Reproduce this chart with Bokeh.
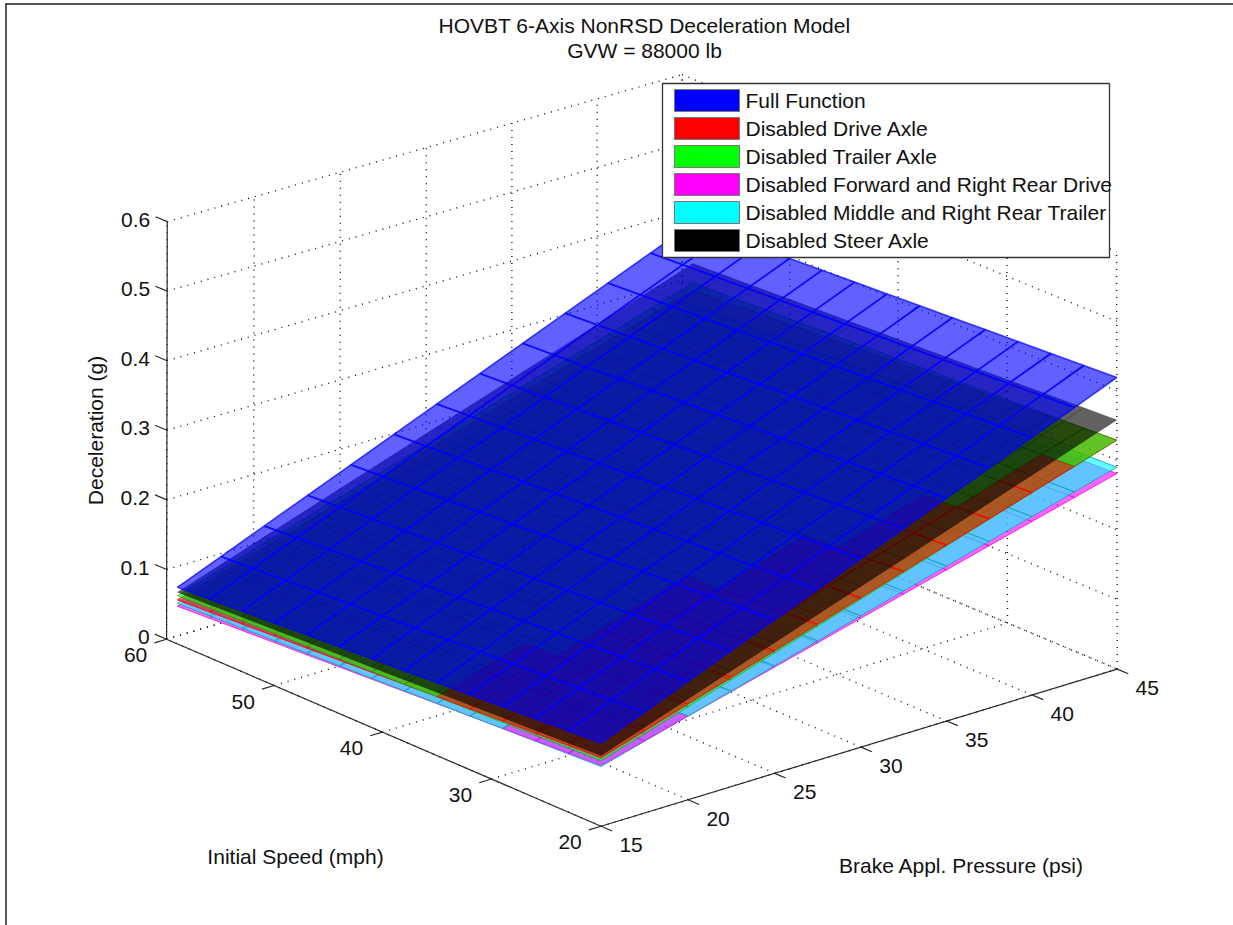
import numpy as np
from bokeh.plotting import figure, ColumnDataSource
from bokeh.models import Range1d
from bokeh.core.properties import value
from bokeh.embed import file_html
from bokeh.resources import INLINE

title_lines = ["HOVBT 6-Axis NonRSD Deceleration Model", "GVW = 88000 lb"]
x_label = "Brake Appl. Pressure (psi)"
y_label = "Initial Speed (mph)"
z_label = "Deceleration (g)"

pressure_ticks = [15, 20, 25, 30, 35, 40, 45]
speed_ticks = [20, 30, 40, 50, 60]
decel_ticks = [0, 0.1, 0.2, 0.3, 0.4, 0.5, 0.6]
decel_tick_labels = ["0", "0.1", "0.2", "0.3", "0.4", "0.5", "0.6"]

mesh_pressure = [15, 17.5, 20, 22.5, 25, 27.5, 30, 32.5, 35, 37.5, 40, 42.5, 45]
mesh_speed = [20, 23, 26, 29, 32, 35, 38, 41, 44, 47, 50, 53, 56, 59]

# Deceleration at the surface corners:
# (15 psi, 59 mph), (15 psi, 20 mph), (45 psi, 20 mph), (45 psi, 59 mph)
full_function = [0.081, 0.118, 0.419, 0.390]
disabled_steer = [0.074, 0.100, 0.358, 0.331]
disabled_trailer = [0.069, 0.0925, 0.329, 0.303]
disabled_drive = [0.063, 0.0971, 0.32897, 0.2924]
disabled_mid_rear = [0.058, 0.0845, 0.290, 0.2728]
disabled_fwd_rear = [0.054, 0.0863, 0.281, 0.258]

legend_names = ["Full Function", "Disabled Drive Axle", "Disabled Trailer Axle",
                "Disabled Forward and Right Rear Drive",
                "Disabled Middle and Right Rear Trailer", "Disabled Steer Axle"]
legend_colors = ["#0000ff", "#ff0000", "#00ff00", "#ff00ff", "#00ffff", "#000000"]

surfaces = [
    (disabled_fwd_rear, "#ff00ff", "#e020e0", 0.9, 1.0),
    (disabled_mid_rear, "#00ffff", "#1f9fb5", 0.9, 1.0),
    (disabled_drive, "#ff0000", "#ff0000", 0.9, 1.0),
    (disabled_trailer, "#00ff00", "#109010", 0.5, 1.0),
    (disabled_steer, "#000000", "#000000", 0.2, 1.0),
    (full_function, "#0000ff", "#0000ff", 0.7, 1.6),
]
FONT = value("Liberation Sans")

# ---- camera: eight box corners (unit cube) to page pixels ----
cube = np.array([[0,0,0],[1,0,0],[0,1,0],[1,1,0],[0,1,1],[1,1,1],[1,0,1],[0,0,1]], float)
page = np.array([[600,826],[1117,668],[167,641],[681,484],[167,222],[681,73],[1117,255],[600,399]], float)
rows = []
for (a, b, c), (X, Y) in zip(cube, page):
    rows.append([a, b, c, 1, 0, 0, 0, 0, -X*a, -X*b, -X*c, -X])
    rows.append([0, 0, 0, 0, a, b, c, 1, -Y*a, -Y*b, -Y*c, -Y])
CAM = np.linalg.svd(np.array(rows))[2][-1].reshape(3, 4)

def proj(P, V, z):
    q = CAM @ np.array([(P-15)/30, (V-20)/40, z/0.6, 1.0])
    return q[0]/q[2], q[1]/q[2]

def corner_height(c, P, V):
    s = (P-15)/30
    t = (V-20)/39
    return (1-s)*((1-t)*c[1] + t*c[0]) + s*((1-t)*c[2] + t*c[3])

p = figure(width=1233, height=925, output_backend="svg", toolbar_location=None,
           x_range=Range1d(0, 1233), y_range=Range1d(925, 0), min_border=0,
           x_axis_type=None, y_axis_type=None, margin=(0, 0, 0, 0))
p.grid.visible = False
p.outline_line_color = None
p.background_fill_color = "white"

# frame line at the left/top of the page
p.multi_line([[5.5, 5.5], [5, 1233]], [[3, 925], [3.5, 3.5]], line_color="#222222", line_width=1.5)

# ---- dotted box grid ----
gx, gy = [], []
def seg(a, b):
    A, B = proj(*a), proj(*b)
    gx.append([A[0], B[0]]); gy.append([A[1], B[1]])
for P in pressure_ticks:
    seg((P, 20, 0), (P, 60, 0))
    seg((P, 60, 0), (P, 60, 0.6))
for V in speed_ticks:
    seg((15, V, 0), (45, V, 0))
    seg((45, V, 0), (45, V, 0.6))
for z in decel_ticks:
    seg((15, 60, z), (45, 60, z))
    seg((45, 60, z), (45, 20, z))
p.multi_line(gx, gy, line_color="#111111", line_width=1.4, line_dash="1 6")

# ---- surfaces, sorted per cell so the higher surface blends on top ----
cells = []
for si, (c, col, edge, edge_alpha, edge_width) in enumerate(surfaces):
    for i in range(len(mesh_pressure)-1):
        for j in range(len(mesh_speed)-1):
            P0, P1 = mesh_pressure[i], mesh_pressure[i+1]
            V0, V1 = mesh_speed[j], mesh_speed[j+1]
            pts = [(P0, V0), (P1, V0), (P1, V1), (P0, V1)]
            xy = [proj(a, b, corner_height(c, a, b)) for a, b in pts]
            h = corner_height(c, (P0+P1)/2, (V0+V1)/2)
            cells.append(dict(i=i, j=j, h=h, xs=[q[0] for q in xy], ys=[q[1] for q in xy],
                              col=col, edge=edge, ea=edge_alpha, lw=edge_width))
by_cell = {}
for cell in cells:
    by_cell.setdefault((cell["i"], cell["j"]), []).append(cell)
for group in by_cell.values():
    group.sort(key=lambda d: d["h"])
    for rank, d in enumerate(group):
        d["rank"] = rank
cells.sort(key=lambda d: d["rank"])
src = ColumnDataSource(dict(xs=[d["xs"] for d in cells], ys=[d["ys"] for d in cells],
                            col=[d["col"] for d in cells], edge=[d["edge"] for d in cells],
                            ea=[d["ea"] for d in cells], lw=[d["lw"] for d in cells]))
p.patches("xs", "ys", source=src, fill_color="col", fill_alpha=0.62,
          line_color="edge", line_alpha="ea", line_width="lw")

# ---- axes ----
ax, ay = [], []
def aseg(a, b):
    A, B = proj(*a), proj(*b)
    ax.append([A[0], B[0]]); ay.append([A[1], B[1]])
aseg((15, 60, 0), (15, 60, 0.6))
aseg((15, 20, 0), (15, 60, 0))
aseg((15, 20, 0), (45, 20, 0))
for z in decel_ticks:
    aseg((15, 60, z), (15, 61.1, z))
for V in speed_ticks:
    aseg((15, V, 0), (14.3, V, 0))
for P in pressure_ticks:
    aseg((P, 20, 0), (P, 19, 0))
p.multi_line(ax, ay, line_color="#2a2a2a", line_width=1.2)

TICK = "21px"
def labels(xs, ys, txt, align="center", size=TICK, angle=0.0):
    p.text(xs, ys, text=txt, text_font=FONT, text_font_size=size, text_color="#111111",
           text_align=align, text_baseline="middle", angle=angle)

pts = [proj(15, 60, z) for z in decel_ticks]
labels([q[0]-17 for q in pts], [q[1]-2 for q in pts], decel_tick_labels, align="right")
pts = [proj(15, V, 0) for V in speed_ticks]
labels([q[0]-31 for q in pts], [q[1]+16 for q in pts], [str(V) for V in speed_ticks])
pts = [proj(P, 20, 0) for P in pressure_ticks]
labels([q[0]+30 for q in pts], [q[1]+19 for q in pts], [str(P) for P in pressure_ticks])

labels([644, 644], [25, 50], title_lines)
labels([295], [856], [y_label])
labels([961], [865], [x_label])
labels([95], [430], [z_label], angle=np.pi/2)

# ---- legend ----
p.quad(left=[662], right=[1109], top=[83], bottom=[257], fill_color="white", line_color="#333333", line_width=1.3)
row_y = [100 + 28*k for k in range(len(legend_names))]
p.quad(left=[674]*6, right=[739]*6, top=[y-11 for y in row_y], bottom=[y+11 for y in row_y],
       fill_color=legend_colors, line_color="#777777", line_width=1)
labels([745]*6, row_y, legend_names, align="left")

open("out.html", "w").write(file_html(p, INLINE))
